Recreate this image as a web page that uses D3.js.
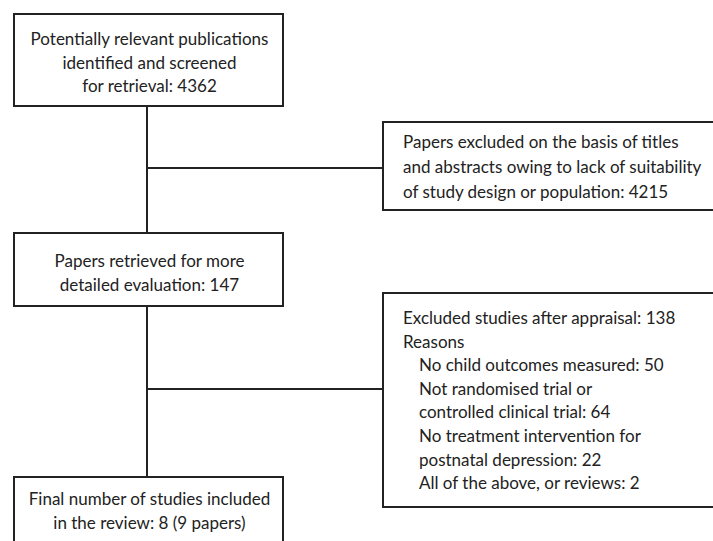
<!DOCTYPE html>
<html lang="en">
<head>
  <meta charset="UTF-8">
  <title>Study selection flow</title>
  <script src="https://d3js.org/d3.v7.min.js"></script>
  <style>
    body { margin: 0; background: #fff; }
    svg text { font-family: Lato, "Open Sans", sans-serif; fill: #222; }
  </style>
</head>
<body>
<script>
  // box texts and counts
  var mainLabels = [
    ["Potentially relevant publications", "identified and screened", "for retrieval: {n}"],
    ["Papers retrieved for more", "detailed evaluation: {n}"],
    ["Final number of studies included", "in the review: {n} (9 papers)"]
  ];
  var mainCounts = [4362, 147, 8];

  var excludedLabels = [
    ["Papers excluded on the basis of titles", "and abstracts owing to lack of suitability", "of study design or population: {n}"],
    ["Excluded studies after appraisal: {n}", "Reasons"]
  ];
  var excludedCounts = [4215, 138];

  var reasons = [
    ["No child outcomes measured: {n}"],
    ["Not randomised trial or", "controlled clinical trial: {n}"],
    ["No treatment intervention for", "postnatal depression: {n}"],
    ["All of the above, or reviews: {n}"]
  ];
  var reasonCounts = [50, 64, 22, 2];

  var W = 713, H = 541;
  var svg = d3.select("body").append("svg")
    .attr("width", W)
    .attr("height", H);

  // layout
  var col = d3.scaleOrdinal().domain(["main", "side"]).range([14, 383]);
  var boxW = { main: 269, side: 333 };
  var lineH = 23.6;
  var fontSize = 17;
  var mainTops = [14, 233, 477], mainBottoms = [106, 306, 560];
  var sideTops = [122, 293], sideBottoms = [210, 507];
  var spineX = col("main") + 133;

  function fill(s, n) { return s.replace("{n}", n); }

  // spine
  svg.append("line")
    .attr("x1", spineX).attr("x2", spineX)
    .attr("y1", mainBottoms[0]).attr("y2", mainTops[2])
    .attr("stroke", "#222").attr("stroke-width", 2);

  // branches
  sideTops.forEach(function(t, i) {
    var y = i == 0 ? 168 : 389;
    svg.append("line")
      .attr("x1", spineX).attr("x2", col("side"))
      .attr("y1", y).attr("y2", y)
      .attr("stroke", "#222").attr("stroke-width", 2);
  });

  // main boxes
  mainLabels.forEach(function(lines, i) {
    var g = svg.append("g");
    g.append("rect")
      .attr("x", col("main")).attr("y", mainTops[i])
      .attr("width", boxW.main).attr("height", mainBottoms[i] - mainTops[i])
      .attr("fill", "#fff").attr("stroke", "#222").attr("stroke-width", 2);
    var firstBase = [45, 267, 505][i];
    g.selectAll("text").data(lines).enter().append("text")
      .attr("x", col("main") + boxW.main / 2 + 1)
      .attr("y", function(d, j) { return firstBase + j * lineH; })
      .attr("text-anchor", "middle")
      .attr("font-size", fontSize)
      .text(function(d) { return fill(d, mainCounts[i]); });
  });

  // side boxes
  excludedLabels.forEach(function(lines, i) {
    var g = svg.append("g");
    g.append("rect")
      .attr("x", col("side")).attr("y", sideTops[i])
      .attr("width", boxW.side).attr("height", sideBottoms[i] - sideTops[i])
      .attr("fill", "#fff").attr("stroke", "#222").attr("stroke-width", 2);
    var all = lines.map(function(d) { return { t: fill(d, excludedCounts[i]), indent: 0 }; });
    if (i == 1) {
      reasons.forEach(function(r, k) {
        r.forEach(function(d) { all.push({ t: fill(d, reasonCounts[k]), indent: 16 }); });
      });
    }
    var firstBase = [148, 324][i];
    var lh = i == 0 ? 25 : lineH;
    g.selectAll("text").data(all).enter().append("text")
      .attr("x", function(d) { return col("side") + 20 + d.indent; })
      .attr("y", function(d, j) { return firstBase + j * lh; })
      .attr("font-size", fontSize)
      .text(function(d) { return d.t; });
  });
</script>
</body>
</html>
